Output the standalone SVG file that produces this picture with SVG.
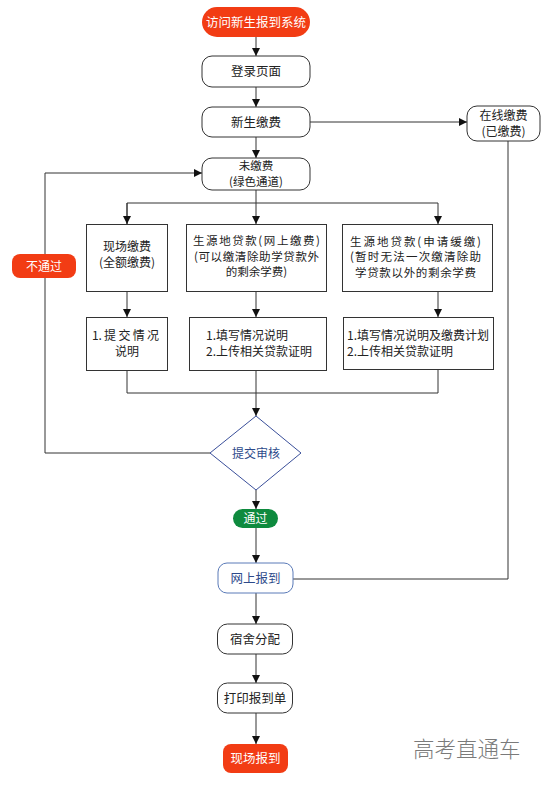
<svg xmlns="http://www.w3.org/2000/svg" width="551" height="789" viewBox="0 0 551 789">
<defs>
<marker id="ah" markerWidth="10" markerHeight="10" refX="9" refY="5" orient="auto" markerUnits="userSpaceOnUse">
<path d="M1,1 L9,5 L1,9 Z" fill="#111"/>
</marker>
<style>
text{font-family:"Noto Sans CJK SC","Noto Sans",sans-serif;font-size:12px;fill:#222}
.c{text-anchor:middle}
.s{font-size:11.5px}
.n{fill:#fff;stroke:#333;stroke-width:1}
.ln{fill:none;stroke:#333;stroke-width:1}
.la{fill:none;stroke:#333;stroke-width:1;marker-end:url(#ah)}
.big{font-size:12.5px}
</style>
</defs>
<rect width="551" height="789" fill="#fff"/>
<g id="connectors">
<line class="la" x1="256" y1="37" x2="256" y2="56"/>
<line class="la" x1="256" y1="87" x2="256" y2="107"/>
<line class="la" x1="256" y1="137" x2="256" y2="158"/>
<line class="la" x1="310" y1="122" x2="467" y2="122"/>
<polyline class="ln" points="508,141 508,579 293,579"/>
<line class="la" x1="256" y1="190" x2="256" y2="224"/>
<polyline class="ln" points="127,224 127,203 438,203"/>
<line class="la" x1="127" y1="203" x2="127" y2="224"/>
<line class="la" x1="438" y1="203" x2="438" y2="224"/>
<line class="la" x1="127" y1="292" x2="127" y2="317"/>
<line class="la" x1="256" y1="292" x2="256" y2="317"/>
<line class="la" x1="438" y1="292" x2="438" y2="317"/>
<polyline class="ln" points="127,371 127,393 438,393 438,370"/>
<line class="la" x1="256" y1="371" x2="256" y2="416"/>
<polyline class="la" points="210,453 45,453 45,173 202,173"/>
<line class="la" x1="256" y1="490" x2="256" y2="509"/>
<line class="la" x1="256" y1="528" x2="256" y2="563"/>
<line class="la" x1="256" y1="593" x2="256" y2="624"/>
<line class="la" x1="256" y1="654" x2="256" y2="683"/>
<line class="la" x1="256" y1="713" x2="256" y2="744"/>
</g>
<g id="start">
<rect x="202" y="7" width="108" height="30" rx="15" fill="#f23c14"/>
<text class="c big" x="256" y="26.5" style="fill:#fff">访问新生报到系统</text>
</g>
<g id="login">
<rect class="n" x="202" y="56" width="108" height="31" rx="10"/>
<text class="c big" x="256" y="76">登录页面</text>
</g>
<g id="pay">
<rect class="n" x="202" y="107" width="108" height="30" rx="10"/>
<text class="c big" x="256" y="126.5">新生缴费</text>
</g>
<g id="online">
<rect class="n" x="467" y="106" width="73" height="35" rx="10"/>
<text class="c" x="503.5" y="120">在线缴费</text>
<text class="c" x="503.5" y="136">(已缴费)</text>
</g>
<g id="unpaid">
<rect class="n" x="202" y="158" width="108" height="32" rx="10"/>
<text class="c s" x="256" y="170">未缴费</text>
<text class="c s" x="256" y="185.5">(绿色通道)</text>
</g>
<g id="b1">
<rect class="n" x="86.5" y="224.5" width="81" height="67"/>
<text class="c" x="127" y="251">现场缴费</text>
<text class="c" x="127" y="266.5">(全额缴费)</text>
</g>
<g id="b2">
<rect class="n" x="186.5" y="224.5" width="140" height="67"/>
<text class="c s" x="256.5" y="245" textLength="127" lengthAdjust="spacing">生源地贷款(网上缴费)</text>
<text class="c s" x="256.5" y="260.5" textLength="125" lengthAdjust="spacing">(可以缴清除助学贷款外</text>
<text class="c s" x="256.5" y="276">的剩余学费)</text>
</g>
<g id="b3">
<rect class="n" x="342.5" y="224.5" width="150" height="67"/>
<text class="s" x="350" y="245.5" textLength="131" lengthAdjust="spacing">生源地贷款(申请缓缴)</text>
<text class="s" x="350" y="261" textLength="131" lengthAdjust="spacing">(暂时无法一次缴清除助</text>
<text class="s" x="355" y="276.5" textLength="121" lengthAdjust="spacing">学贷款以外的剩余学费</text>
</g>
<g id="b1b">
<rect class="n" x="86.5" y="317.5" width="81" height="53"/>
<text x="92" y="340" textLength="67" lengthAdjust="spacing">1. 提 交 情 况</text>
<text class="c" x="127" y="356">说明</text>
</g>
<g id="b2b">
<rect class="n" x="189.5" y="317.5" width="137" height="53"/>
<text x="206" y="340">1.填写情况说明</text>
<text x="206" y="356">2.上传相关贷款证明</text>
</g>
<g id="b3b">
<rect class="n" x="343.5" y="317.5" width="150" height="52"/>
<text x="347" y="340">1.填写情况说明及缴费计划</text>
<text x="347" y="356">2.上传相关贷款证明</text>
</g>
<g id="review">
<polygon points="256,416 301,453 256,490 210,453" fill="#fff" stroke="#3a4f9a" stroke-width="1"/>
<text class="c" x="256" y="457.5" style="fill:#2d4a8a">提交审核</text>
</g>
<g id="fail">
<rect x="12" y="254" width="64" height="24" rx="8" fill="#f23c14"/>
<text class="c" x="44" y="270.5" style="fill:#fff">不通过</text>
</g>
<g id="pass">
<rect x="233" y="509" width="45" height="19" rx="9.5" fill="#0e8a3e"/>
<text class="c" x="255.5" y="523" style="fill:#fff">通过</text>
</g>
<g id="register">
<rect x="218" y="563" width="75" height="30" rx="9" fill="#fff" stroke="#5a7ab8" stroke-width="1"/>
<text class="c big" x="255.5" y="582.5" style="fill:#2d4a8a">网上报到</text>
</g>
<g id="dorm">
<rect class="n" x="217.5" y="624" width="75" height="30" rx="10"/>
<text class="c big" x="255" y="643.5">宿舍分配</text>
</g>
<g id="print">
<rect class="n" x="217.5" y="683" width="75" height="30" rx="10"/>
<text class="c big" x="255" y="702.5">打印报到单</text>
</g>
<g id="onsite">
<rect x="223" y="744" width="65" height="29" rx="8" fill="#f23c14"/>
<text class="c big" x="255.5" y="763" style="fill:#fff">现场报到</text>
</g>
<text x="413" y="757" style="font-size:21.5px;fill:#7a7a7a;font-family:'Noto Sans CJK SC',sans-serif;font-weight:300">高考直通车</text>
</svg>
